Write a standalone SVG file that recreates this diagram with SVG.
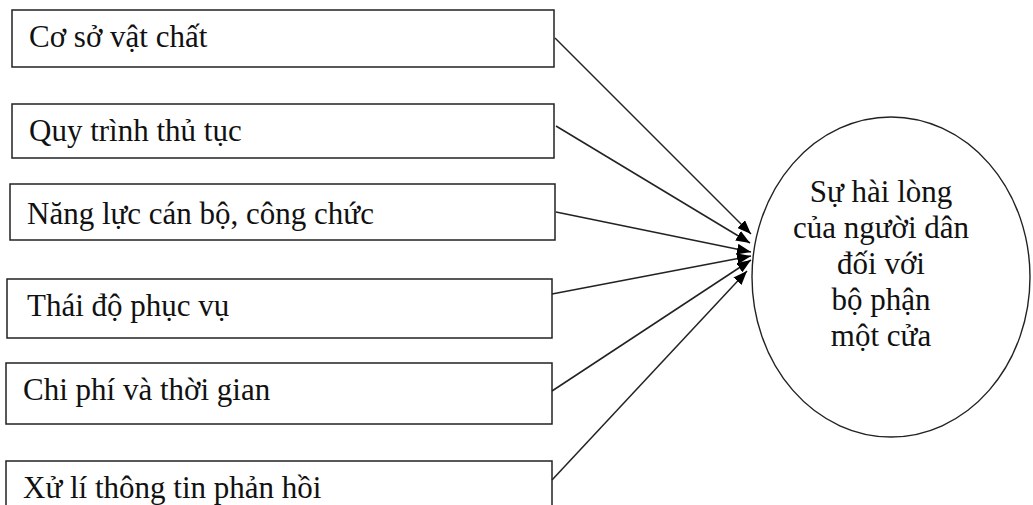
<svg xmlns="http://www.w3.org/2000/svg" width="1033" height="505" viewBox="0 0 1033 505">
  <style>
    .box { fill: #ffffff; stroke: #222222; stroke-width: 1.5; }
    .lbl { font-family: "Liberation Serif", "Times New Roman", serif; font-size: 31px; fill: #111111; }
    .goal { fill: #ffffff; stroke: #222222; stroke-width: 1.4; }
    .mid { text-anchor: middle; }
    .edge { stroke: #222222; stroke-width: 1.5; fill: none; marker-end: url(#head); }
  </style>
  <defs>
    <marker id="head" markerUnits="userSpaceOnUse" markerWidth="15" markerHeight="11" refX="14" refY="5.5" orient="auto">
      <path d="M0,0 L14,5.5 L0,11 Z" fill="#000000"/>
    </marker>
  </defs>
  <rect width="1033" height="505" fill="#ffffff"/>

  <g id="co-so-vat-chat">
    <rect class="box" x="12" y="10" width="542" height="57"/>
    <text class="lbl" x="29" y="47">Cơ sở vật chất</text>
  </g>
  <g id="quy-trinh-thu-tuc">
    <rect class="box" x="12" y="104" width="542" height="54"/>
    <text class="lbl" x="29" y="141">Quy trình thủ tục</text>
  </g>
  <g id="nang-luc-can-bo">
    <rect class="box" x="10" y="184" width="545" height="56"/>
    <text class="lbl" x="27" y="224">Năng lực cán bộ, công chức</text>
  </g>
  <g id="thai-do-phuc-vu">
    <rect class="box" x="7" y="279" width="545" height="59"/>
    <text class="lbl" x="27" y="316">Thái độ phục vụ</text>
  </g>
  <g id="chi-phi-thoi-gian">
    <rect class="box" x="6" y="363" width="546" height="61"/>
    <text class="lbl" x="23" y="400">Chi phí và thời gian</text>
  </g>
  <g id="xu-li-thong-tin">
    <rect class="box" x="6" y="461" width="546" height="60"/>
    <text class="lbl" x="23" y="498">Xử lí thông tin phản hồi</text>
  </g>

  <g id="su-hai-long">
    <ellipse class="goal" cx="891" cy="277" rx="139" ry="160"/>
    <text class="lbl mid" x="881" y="202">Sự hài lòng</text>
    <text class="lbl mid" x="881" y="238">của người dân</text>
    <text class="lbl mid" x="881" y="274">đối với</text>
    <text class="lbl mid" x="881" y="310">bộ phận</text>
    <text class="lbl mid" x="881" y="346">một cửa</text>
  </g>

  <g id="connectors">
    <line class="edge" x1="555" y1="38" x2="751" y2="234"/>
    <line class="edge" x1="556" y1="126" x2="750" y2="243"/>
    <line class="edge" x1="556" y1="212" x2="751" y2="252"/>
    <line class="edge" x1="552" y1="294" x2="751" y2="256"/>
    <line class="edge" x1="552" y1="391" x2="751" y2="260"/>
    <line class="edge" x1="552" y1="480" x2="747" y2="271"/>
  </g>
</svg>
